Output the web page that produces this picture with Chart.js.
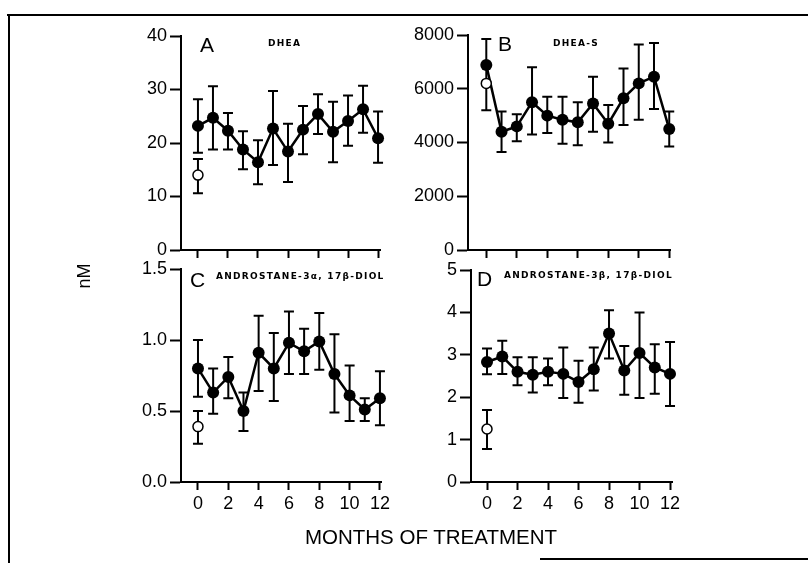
<!DOCTYPE html>
<html>
<head>
<meta charset="utf-8">
<script src="https://cdn.jsdelivr.net/npm/chart.js@4.4.1/dist/chart.umd.min.js"></script>
<style>
	body { margin: 0; width: 808px; height: 563px; background: #fff; position: relative; overflow: hidden; font-family: "Liberation Sans", Arial, sans-serif; }
	canvas { position: absolute; }
	.txt { position: absolute; line-height: 1; color: #000; white-space: nowrap; }
	.letter { font-size: 21px; }
	.name { font-family: "DejaVu Sans", sans-serif; font-weight: bold; font-size: 9px; letter-spacing: 1.3px; }
	.line { position: absolute; background: #000; }
</style>
</head>
<body>
<div class="line" style="left:7px; top:14px; width:801px; height:2px;"></div>
<div class="line" style="left:8px; top:14px; width:2px; height:549px;"></div>
<div class="line" style="left:540px; top:558px; width:268px; height:2px;"></div>

<canvas id="panel_a"></canvas>
<canvas id="panel_b"></canvas>
<canvas id="panel_c"></canvas>
<canvas id="panel_d"></canvas>

<div class="txt letter" style="left:200px; top:34px;">A</div>
<div class="txt name" style="left:268px; top:39px;">DHEA</div>
<div class="txt letter" style="left:498px; top:33px;">B</div>
<div class="txt name" style="left:553px; top:39px;">DHEA-S</div>
<div class="txt letter" style="left:190px; top:269px;">C</div>
<div class="txt name" style="left:216px; top:272px;">ANDROSTANE-3α, 17β-DIOL</div>
<div class="txt letter" style="left:477px; top:268px;">D</div>
<div class="txt name" style="left:504px; top:271px;">ANDROSTANE-3β, 17β-DIOL</div>
<div class="txt" style="left:84px; top:276px; font-size:18px; transform: translate(-50%, -50%) rotate(-90deg);">nM</div>
<div class="txt" style="left:431px; top:527px; font-size:20.5px; transform: translateX(-50%);">MONTHS OF TREATMENT</div>

<script>
// Mois de traitement et graduations communes.
const months = [ 0, 1, 2, 3, 4, 5, 6, 7, 8, 9, 10, 11, 12 ];
const month_ticks = [ 0, 2, 4, 6, 8, 10, 12 ];

// A : DHEA (nM).
const dhea_mean = [ 23.2, 24.7, 22.3, 18.8, 16.4, 22.7, 18.4, 22.5, 25.4, 22.1, 24.1, 26.3, 20.9 ];
const dhea_high = [ 28.2, 30.6, 25.6, 22.2, 20.5, 29.7, 23.6, 26.9, 29.1, 27.7, 28.9, 30.7, 25.9 ];
const dhea_low = [ 18.2, 18.8, 18.8, 15.1, 12.3, 15.9, 12.7, 17.9, 21.7, 16.4, 19.5, 21.9, 16.3 ];
const dhea_open = [ 14.0 ], dhea_open_high = [ 17.0 ], dhea_open_low = [ 10.6 ];
const dhea_ticks = [ 0, 10, 20, 30, 40 ];

// B : DHEA-S (nM).
const dheas_mean = [ 6880, 4400, 4600, 5500, 5000, 4850, 4750, 5450, 4700, 5650, 6200, 6450, 4500 ];
const dheas_high = [ 7850, 5150, 5050, 6800, 5700, 5700, 5500, 6450, 5400, 6750, 7650, 7700, 5150 ];
const dheas_low = [ 5200, 3650, 4050, 4300, 4350, 3950, 3900, 4400, 4000, 4650, 4850, 5250, 3850 ];
const dheas_open = [ 6200 ], dheas_open_high = [ null ], dheas_open_low = [ null ];
const dheas_ticks = [ 0, 2000, 4000, 6000, 8000 ];

// C : androstane-3a, 17b-diol (nM).
const diol_a_mean = [ 0.80, 0.63, 0.74, 0.50, 0.91, 0.80, 0.98, 0.92, 0.99, 0.76, 0.61, 0.51, 0.59 ];
const diol_a_high = [ 1.00, 0.80, 0.88, 0.63, 1.17, 1.05, 1.20, 1.08, 1.19, 1.04, 0.82, 0.59, 0.78 ];
const diol_a_low = [ 0.60, 0.48, 0.59, 0.36, 0.64, 0.57, 0.76, 0.76, 0.79, 0.49, 0.43, 0.43, 0.40 ];
const diol_a_open = [ 0.39 ], diol_a_open_high = [ 0.50 ], diol_a_open_low = [ 0.27 ];
const diol_a_ticks = [ 0, 0.5, 1.0, 1.5 ];

// D : androstane-3b, 17b-diol (nM).
const diol_b_mean = [ 2.83, 2.96, 2.60, 2.53, 2.60, 2.55, 2.36, 2.66, 3.50, 2.63, 3.04, 2.70, 2.55 ];
const diol_b_high = [ 3.15, 3.33, 2.94, 2.94, 2.91, 3.17, 2.86, 3.17, 4.05, 3.21, 4.00, 3.25, 3.30 ];
const diol_b_low = [ 2.54, 2.55, 2.28, 2.11, 2.28, 1.98, 1.87, 2.16, 2.91, 2.06, 1.98, 2.08, 1.79 ];
const diol_b_open = [ 1.25 ], diol_b_open_high = [ 1.70 ], diol_b_open_low = [ 0.78 ];
const diol_b_ticks = [ 0, 1, 2, 3, 4, 5 ];

const Y_AXIS_W = 55;
const PAD_TOP = 15;
const PAD_RIGHT = 15;

//
// Barres d'erreur dessinées sous les points, à partir des échelles du graphique.
//
const error_bars = {
	id: "error_bars",
	beforeDatasetsDraw( chart )
	{
		const ctx = chart.ctx;
		const sx = chart.scales.x;
		const sy = chart.scales.y;

		ctx.save();
		ctx.strokeStyle = "#000";
		ctx.lineWidth = 2;

		chart.data.datasets.forEach( ( ds ) =>
		{
			ds.data.forEach( ( p, i ) =>
			{
				const hi = ds.high[ i ];
				const lo = ds.low[ i ];

				if ( hi == null ) return;

				const px = sx.getPixelForValue( p.x );
				const top = sy.getPixelForValue( hi );
				const bot = sy.getPixelForValue( lo );

				ctx.beginPath();
				ctx.moveTo( px, top ); ctx.lineTo( px, bot );
				ctx.moveTo( px - 5, top ); ctx.lineTo( px + 5, top );
				ctx.moveTo( px - 5, bot ); ctx.lineTo( px + 5, bot );
				ctx.stroke();
			} );
		} );

		ctx.restore();
	}
};

function make_panel( id, box, x_range, y_ticks, show_x_labels, decimals, mean, high, low, open, open_high, open_low )
{
	const x_axis_h = show_x_labels ? 40 : 14;
	const canvas = document.getElementById( id );
	const w = Y_AXIS_W + box.w + PAD_RIGHT;
	const h = PAD_TOP + box.h + x_axis_h;

	canvas.width = w;
	canvas.height = h;
	canvas.style.width = w + "px";
	canvas.style.height = h + "px";
	canvas.style.left = ( box.x - Y_AXIS_W ) + "px";
	canvas.style.top = ( box.y - PAD_TOP ) + "px";

	new Chart( canvas,
		{
			type: "scatter",
			data: {
				datasets: [
					// Valeur avant traitement (cercle vide).
					{
						data: open.map( ( v ) => ( { x: 0, y: v } ) ),
						high: open_high,
						low: open_low,
						clip: false,
						showLine: false,
						pointRadius: 5,
						pointBackgroundColor: "#fff",
						pointBorderColor: "#000",
						pointBorderWidth: 1.5
					},
					// Valeurs mensuelles sous traitement (cercles pleins reliés).
					{
						data: months.map( ( m, i ) => ( { x: m, y: mean[ i ] } ) ),
						high: high,
						low: low,
						clip: false,
						showLine: true,
						borderColor: "#000",
						borderWidth: 2.5,
						pointRadius: 6,
						pointBackgroundColor: "#000",
						pointBorderColor: "#000",
						pointBorderWidth: 0
					}
				]
			},
			options: {
				responsive: false,
				animation: false,
				events: [],
				layout: {
					padding: { top: PAD_TOP, right: PAD_RIGHT, left: 0, bottom: 0 }
				},
				plugins: {
					legend: { display: false },
					tooltip: { enabled: false }
				},
				scales: {
					x: {
						type: "linear",
						min: x_range[ 0 ],
						max: x_range[ 1 ],
						afterBuildTicks: ( scale ) => { scale.ticks = month_ticks.map( ( v ) => ( { value: v } ) ); },
						afterFit: ( scale ) => { scale.height = x_axis_h; },
						border: { display: true, color: "#000", width: 2 },
						grid: { drawOnChartArea: false, drawTicks: true, tickLength: 8, tickColor: "#000", tickWidth: 2 },
						ticks: {
							display: show_x_labels,
							color: "#000",
							padding: 3,
							maxRotation: 0,
							font: { size: 18, family: "Liberation Sans" }
						}
					},
					y: {
						min: y_ticks[ 0 ],
						max: y_ticks[ y_ticks.length - 1 ],
						afterBuildTicks: ( scale ) => { scale.ticks = y_ticks.map( ( v ) => ( { value: v } ) ); },
						afterFit: ( scale ) => { scale.width = Y_AXIS_W; },
						border: { display: true, color: "#000", width: 2 },
						grid: { drawOnChartArea: false, drawTicks: true, tickLength: 11, tickColor: "#000", tickWidth: 2 },
						ticks: {
							color: "#000",
							padding: 3,
							font: { size: 18, family: "Liberation Sans" },
							callback: ( v ) => v.toFixed( decimals )
						}
					}
				}
			},
			plugins: [ error_bars ]
		} );
}

make_panel( "panel_a", { x: 181, y: 36, w: 199, h: 214 }, [ -1.13, 12.13 ], dhea_ticks, false, 0,
	dhea_mean, dhea_high, dhea_low, dhea_open, dhea_open_high, dhea_open_low );
make_panel( "panel_b", { x: 468, y: 35, w: 202, h: 215 }, [ -1.2, 12.05 ], dheas_ticks, false, 0,
	dheas_mean, dheas_high, dheas_low, dheas_open, dheas_open_high, dheas_open_low );
make_panel( "panel_c", { x: 181, y: 269, w: 200, h: 213 }, [ -1.12, 12.07 ], diol_a_ticks, true, 1,
	diol_a_mean, diol_a_high, diol_a_low, diol_a_open, diol_a_open_high, diol_a_open_low );
make_panel( "panel_d", { x: 471, y: 270, w: 201, h: 212 }, [ -1.05, 12.13 ], diol_b_ticks, true, 0,
	diol_b_mean, diol_b_high, diol_b_low, diol_b_open, diol_b_open_high, diol_b_open_low );
</script>
</body>
</html>
